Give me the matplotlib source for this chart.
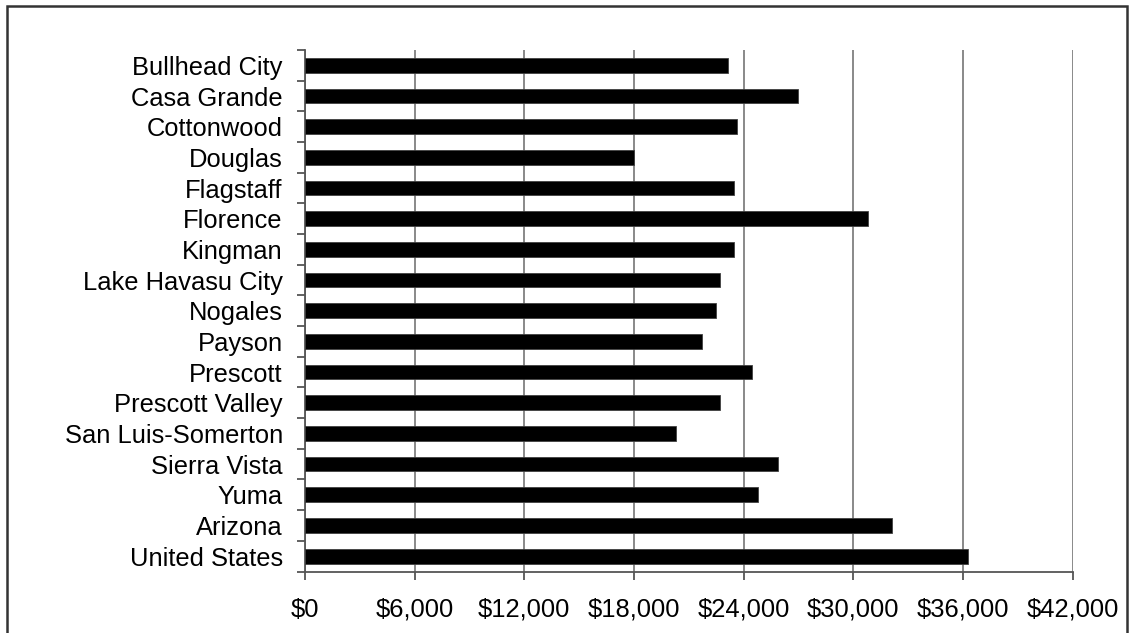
import matplotlib
matplotlib.use("Agg")
import matplotlib.pyplot as plt
from matplotlib.patches import Rectangle
from matplotlib.ticker import FuncFormatter, FixedLocator
import numpy as np

plt.rcParams['font.family'] = ['Liberation Sans', 'DejaVu Sans']

categories = ["Bullhead City", "Casa Grande", "Cottonwood", "Douglas", "Flagstaff",
              "Florence", "Kingman", "Lake Havasu City", "Nogales", "Payson",
              "Prescott", "Prescott Valley", "San Luis-Somerton", "Sierra Vista",
              "Yuma", "Arizona", "United States"]
values = [23150, 26950, 23650, 18000, 23450, 30800, 23450, 22700, 22500, 21700,
          24450, 22700, 20300, 25850, 24800, 32100, 36250]
x_ticks = [0, 6000, 12000, 18000, 24000, 30000, 36000, 42000]

fig = plt.figure(figsize=(11.35, 6.33), dpi=100)
ax = fig.add_axes([305/1135, 1 - 571.5/633, (1072.7 - 305)/1135, (571.5 - 50)/633])

y = np.arange(len(categories))
ax.barh(y, values, height=0.48, color='black', edgecolor='#404040', linewidth=0.6, zorder=3)

ax.set_xlim(0, 42000)
ax.set_ylim(len(categories) - 0.5, -0.5)
ax.set_xticks(x_ticks)
ax.xaxis.set_major_formatter(FuncFormatter(lambda v, p: "${:,.0f}".format(v)))
ax.grid(axis='x', color='#808080', linewidth=1.3, zorder=1)

ax.set_yticks(y)
ax.set_yticklabels(categories)
ax.yaxis.set_minor_locator(FixedLocator(np.arange(-0.5, len(categories), 1.0)))
ax.tick_params(axis='y', which='major', length=0, pad=16, labelsize=18.4)
ax.tick_params(axis='y', which='minor', length=6, width=1.3, color='#555555', direction='out')
ax.tick_params(axis='x', which='major', length=6, width=1.3, color='#555555', direction='out',
               pad=13, labelsize=18.4)

for s in ['top', 'right']:
    ax.spines[s].set_visible(False)
for s in ['left', 'bottom']:
    ax.spines[s].set_color('#555555')
    ax.spines[s].set_linewidth(1.3)

border = Rectangle((7/1135, -0.05), (1127 - 7)/1135, 1.05 - 6/633, transform=fig.transFigure,
                   fill=False, edgecolor='#333333', linewidth=1.8, clip_on=False)
fig.patches.append(border)

fig.savefig("out.png", dpi=100)
